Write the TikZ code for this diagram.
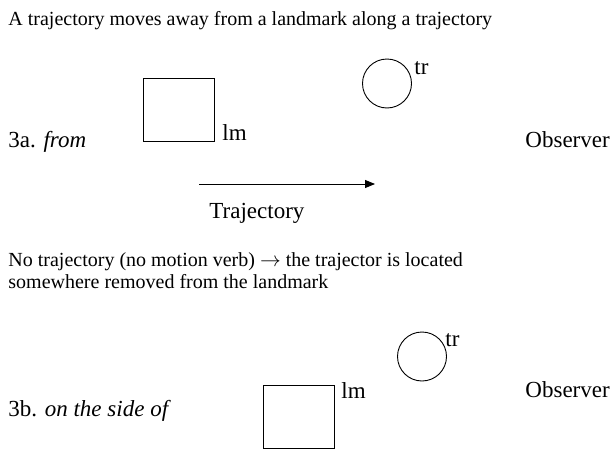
\documentclass[tikz,border=0pt]{standalone}
\usepackage{fontspec}
\setmainfont{Liberation Serif}
\usetikzlibrary{arrows.meta}
\begin{document}
\begin{tikzpicture}[x=1pt,y=-1pt,
  txt/.style={anchor=base west,inner sep=0pt,font=\fontsize{23}{27}\selectfont},
  captxt/.style={anchor=base west,inner sep=0pt,font=\fontsize{20}{24}\selectfont},
  lmbox/.style={draw,line width=0.9pt,minimum width=71pt,minimum height=63pt,inner sep=0pt},
  trcirc/.style={draw,line width=0.9pt,circle,minimum size=49pt,inner sep=0pt},
  line width=0.9pt]
\useasboundingbox (0,0) rectangle (614,450);
\node[captxt] (title) at (8,25) {A trajectory moves away from a landmark along a trajectory};
\node[lmbox] (sq1) at (178.5,109.5) {};
\node[txt] (lm1) at (222,140) {lm};
\node[trcirc] (c1) at (387,83.5) {};
\node[txt] (tr1) at (414,74) {tr};
\node[txt] (l3a) at (8,147) {3a. \textit{from}};
\node[txt] (obs1) at (525,147) {Observer};
\coordinate (a1) at (199,184);
\coordinate (a2) at (375,184);
\draw[-{Triangle[length=10pt,width=8pt]}] (a1) -- (a2);
\node[txt] (trj) at (209,218) {Trajectory};
\node[captxt] (p1) at (8,266) {No trajectory (no motion verb) $\rightarrow$ the trajector is located};
\node[captxt] (p2) at (8,288) {somewhere removed from the landmark};
\node[lmbox] (sq2) at (298.5,416.5) {};
\node[txt] (lm2) at (341,398) {lm};
\node[trcirc] (c2) at (422,356.5) {};
\node[txt] (tr2) at (445,346) {tr};
\node[txt] (l3b) at (8,416) {3b. \textit{on the side of}};
\node[txt] (obs2) at (525,397) {Observer};
\end{tikzpicture}
\end{document}
